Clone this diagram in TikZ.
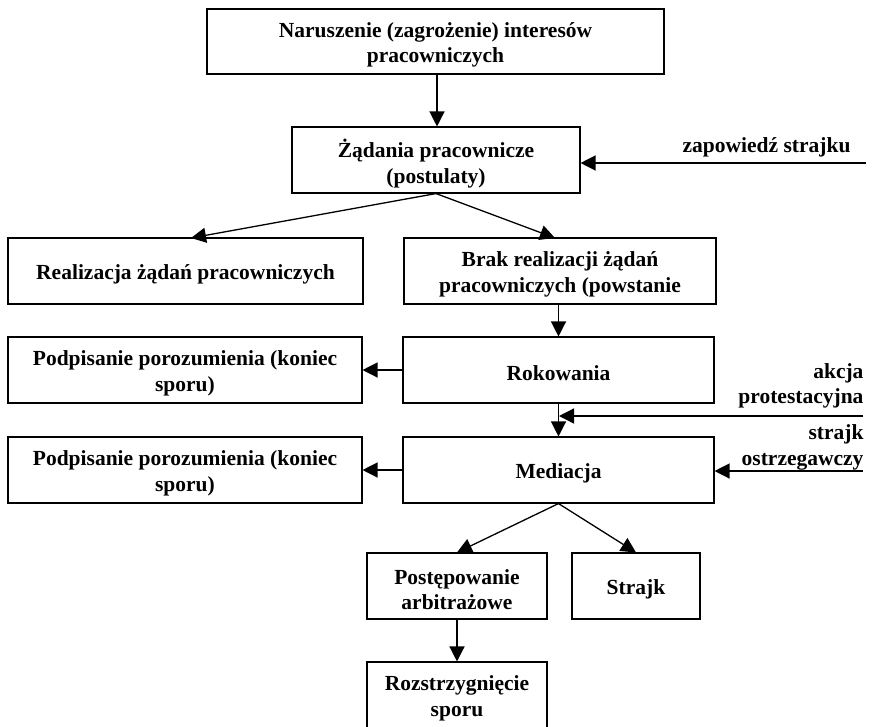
\documentclass[tikz,border=0pt]{standalone}
\usepackage{fontspec}
\setmainfont{Liberation Serif}
\usetikzlibrary{arrows.meta}
\begin{document}
\begin{tikzpicture}[x=1pt,y=-1pt,
  txt/.style={align=center, font=\fontsize{21.5}{25.5}\selectfont\bfseries, inner sep=0pt, yshift=-3.5pt},
  box/.style={draw, line width=1.1pt, inner sep=0pt, label={[txt]center:#1}},
  lbl/.style={align=right, font=\fontsize{21.5}{25.5}\selectfont\bfseries, inner sep=0pt, anchor=east},
  arr/.style={line width=1.3pt, -{Triangle[length=15pt,width=15pt]}},
  line width=1.1pt]
\useasboundingbox (0,0) rectangle (875,726);
\node[box={Naruszenie (zagrożenie) interesów\\pracowniczych}, minimum width=457pt, minimum height=65pt] (top) at (435.5,41.5) {};
\node[box={Żądania pracownicze\\(postulaty)}, minimum width=288pt, minimum height=66pt] (zad) at (436,160) {};
\node[box={Realizacja żądań pracowniczych}, minimum width=355pt, minimum height=66pt] (real) at (185.5,271) {};
\node[box={Brak realizacji żądań\\pracowniczych (powstanie}, minimum width=312pt, minimum height=66pt] (brak) at (560,271) {};
\node[box={Podpisanie porozumienia (koniec\\sporu)}, minimum width=354pt, minimum height=66pt] (pod1) at (185,370) {};
\node[box={Rokowania}, minimum width=311pt, minimum height=66pt] (rok) at (558.5,370) {};
\node[box={Podpisanie porozumienia (koniec\\sporu)}, minimum width=354pt, minimum height=66pt] (pod2) at (185,470) {};
\node[box={Mediacja}, minimum width=311pt, minimum height=66pt] (med) at (558.5,470) {};
\node[box={Postępowanie\\arbitrażowe}, minimum width=180pt, minimum height=66pt] (post) at (457,586) {};
\node[box={Strajk}, minimum width=128pt, minimum height=66pt] (str) at (636,586) {};
\node[box={Rozstrzygnięcie\\sporu}, minimum width=180pt, minimum height=66pt] (roz) at (457,695) {};

\node[lbl] (zap) at (851,147) {zapowiedź strajku};
\node[lbl] (akc) at (864,386) {akcja\\protestacyjna};
\node[lbl] (ost) at (864,447.5) {strajk\\ostrzegawczy};

\coordinate (zapR) at (866,163);
\coordinate (akcR) at (863,416);
\coordinate (akcL) at (559,416);
\coordinate (ostR) at (863,471);
\coordinate (topB) at (437,74);

\draw[arr] (topB) -- (topB |- zad.north);
\draw[arr] (zapR) -- (zapR -| zad.east);
\draw[arr] (zad.south) -- (191,238);
\draw[arr] (zad.south) -- (555,238);
\draw[arr] (brak.south -| rok.north) -- (rok.north);
\draw[arr] (rok.west) -- (pod1.east);
\draw[arr] (akcR) -- (akcL);
\draw[arr] (rok.south) -- (med.north);
\draw[arr] (med.west) -- (pod2.east);
\draw[arr] (ostR) -- (ostR -| med.east);
\draw[arr] (med.south) -- (post.north);
\draw[arr] (med.south) -- (str.north);
\draw[arr] (post.south) -- (roz.north);
\end{tikzpicture}
\end{document}
